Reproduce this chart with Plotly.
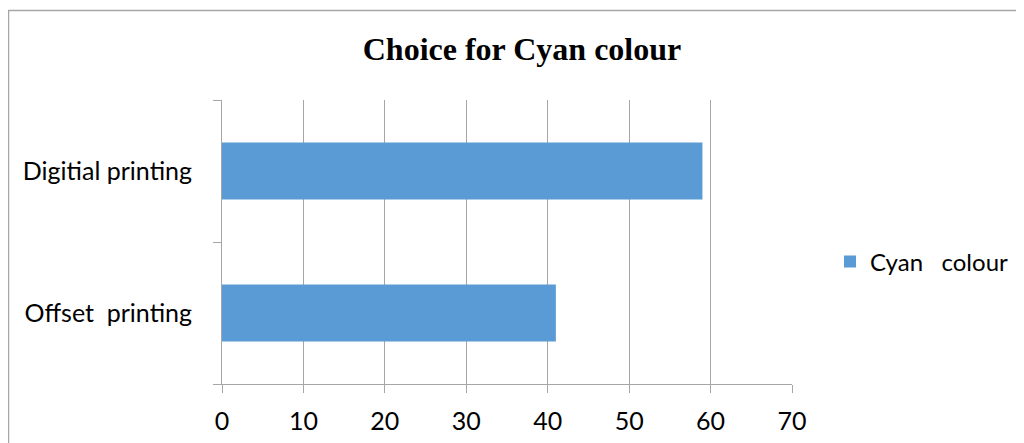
import plotly.graph_objects as go

categories = ["Offset\u00a0 printing", "Digitial printing"]
values = [41, 59]
series_name = "Cyan\u00a0\u00a0 colour"
title_text = "Choice for Cyan colour"
x_ticks = [0, 10, 20, 30, 40, 50, 60, 70]

# page body has an 8px margin, so the figure is drawn 8px in from the top-left
OFF = 8
W, H = 1024 - OFF, 443 - OFF
L, R, T, B = 222 - OFF, 1024 - 792, 100 - OFF, 443 - 384
pw, ph = W - L - R, H - T - B

def px_x(p):
    return (p - OFF - L) / pw

def px_y(p):
    return (H - B - (p - OFF)) / ph

grid = "#a6a6a6"
font = "Lato, Open Sans, sans-serif"

fig = go.Figure()
fig.add_trace(go.Bar(
    x=values, y=categories, orientation="h", name=series_name,
    marker=dict(color="#5b9bd5", line=dict(width=0)), width=0.4,
    showlegend=True,
))

fig.update_layout(
    width=W, height=H,
    margin=dict(l=L, r=R, t=T, b=B, pad=0, autoexpand=False),
    paper_bgcolor="white", plot_bgcolor="white",
    title=dict(text="<b>" + title_text + "</b>", x=(522 - OFF) / W, xanchor="center",
               y=1 - (49 - OFF) / H, yanchor="middle", xref="container", yref="container",
               font=dict(family="Liberation Serif, Times New Roman, serif", size=32, color="black")),
    showlegend=True,
    legend=dict(x=(830 - OFF) / W, xanchor="left", y=1 - (262 - OFF) / H, yanchor="middle",
                xref="container", yref="container",
                font=dict(family=font, size=24, color="black"),
                bgcolor="rgba(0,0,0,0)", borderwidth=0),
    xaxis=dict(range=[0, 70], tickvals=x_ticks, showgrid=True, gridcolor=grid, gridwidth=1,
               showline=True, linecolor=grid, linewidth=1, zeroline=False,
               ticks="outside", ticklen=8, tickcolor=grid, tickwidth=1,
               tickfont=dict(family=font, size=25, color="black"), ticklabelstandoff=7,
               fixedrange=True, automargin=False),
    yaxis=dict(range=[-0.5, 1.5], showline=True, linecolor=grid, linewidth=1,
               ticks="outside", ticklen=8, tickcolor=grid, tickwidth=1, tickson="boundaries",
               showgrid=False, zeroline=False,
               tickfont=dict(family=font, size=25, color="black"), ticklabelstandoff=24,
               fixedrange=True, automargin=False),
    shapes=[dict(type="rect", xref="paper", yref="paper",
                 x0=px_x(8.5), x1=px_x(1040), y0=px_y(460), y1=px_y(10.5),
                 line=dict(color="#a6a6a6", width=1.5), fillcolor="rgba(0,0,0,0)", layer="below")],
)

fig.write_html("out.html")
